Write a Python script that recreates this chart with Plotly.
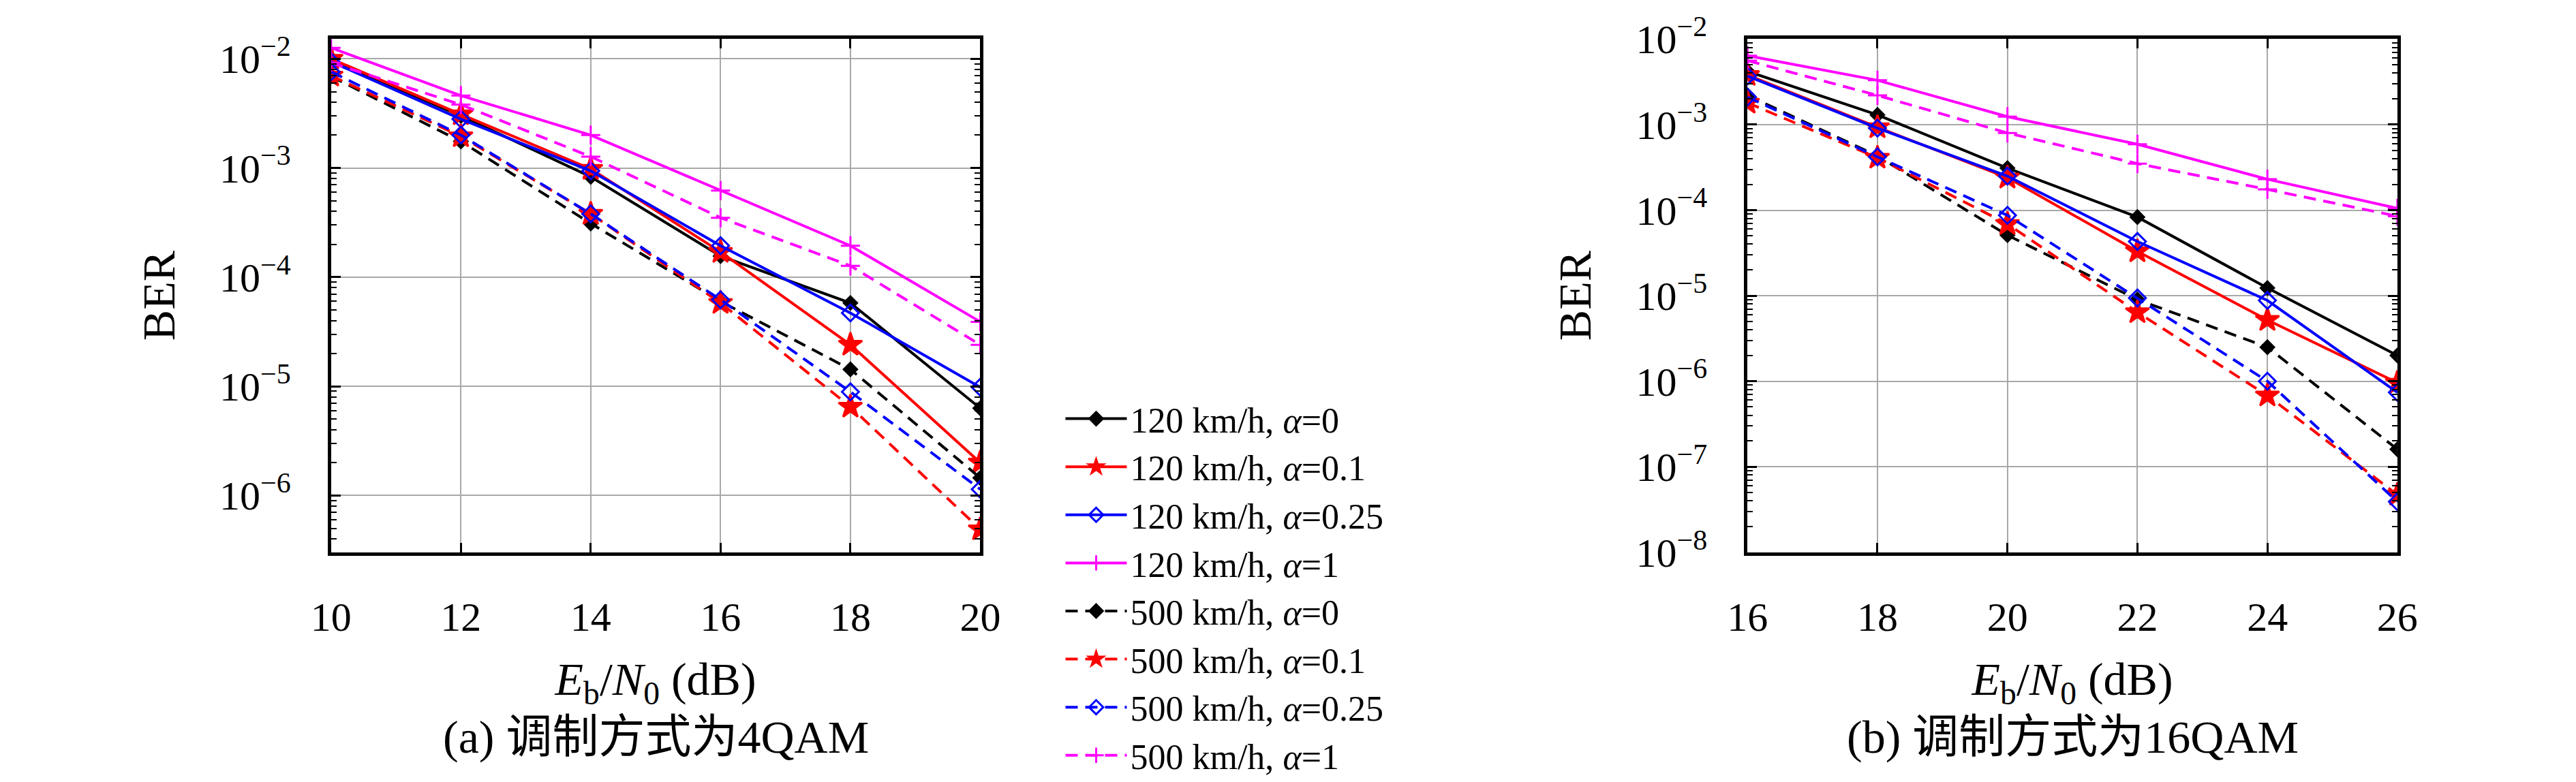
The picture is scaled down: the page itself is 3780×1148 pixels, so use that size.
import plotly.graph_objects as go

# ---------------- data ----------------
snr_4qam = [10, 12, 14, 16, 18, 20]
snr_16qam = [16, 18, 20, 22, 24, 26]

series_names = [
    "120 km/h, <i>α</i>=0",
    "120 km/h, <i>α</i>=0.1",
    "120 km/h, <i>α</i>=0.25",
    "120 km/h, <i>α</i>=1",
    "500 km/h, <i>α</i>=0",
    "500 km/h, <i>α</i>=0.1",
    "500 km/h, <i>α</i>=0.25",
    "500 km/h, <i>α</i>=1",
]

# (a) 4QAM
ber_4qam_120_a0 = [9.8e-3, 3.0e-3, 8.3e-4, 1.56e-4, 5.8e-5, 6.3e-6]
ber_4qam_120_a01 = [1.0e-2, 3.1e-3, 9.8e-4, 1.7e-4, 2.4e-5, 2.0e-6]
ber_4qam_120_a025 = [9.4e-3, 2.8e-3, 9.4e-4, 1.94e-4, 4.7e-5, 9.8e-6]
ber_4qam_120_a1 = [1.26e-2, 4.6e-3, 2.0e-3, 6.2e-4, 1.94e-4, 3.9e-5]
ber_4qam_500_a0 = [6.9e-3, 1.75e-3, 3.1e-4, 6.0e-5, 1.43e-5, 1.45e-6]
ber_4qam_500_a01 = [7.0e-3, 1.95e-3, 3.8e-4, 5.8e-5, 6.5e-6, 4.9e-7]
ber_4qam_500_a025 = [7.6e-3, 2.0e-3, 3.8e-4, 6.2e-5, 8.9e-6, 1.14e-6]
ber_4qam_500_a1 = [9.2e-3, 3.8e-3, 1.27e-3, 3.5e-4, 1.27e-4, 2.4e-5]

# (b) 16QAM
ber_16qam_120_a0 = [4.2e-3, 1.3e-3, 3.1e-4, 8.3e-5, 1.23e-5, 2.0e-6]
ber_16qam_120_a01 = [3.8e-3, 9.3e-4, 2.4e-4, 3.3e-5, 5.2e-6, 9.6e-7]
ber_16qam_120_a025 = [3.7e-3, 9.1e-4, 2.5e-4, 4.3e-5, 8.8e-6, 7.4e-7]
ber_16qam_120_a1 = [6.4e-3, 3.3e-3, 1.24e-3, 5.9e-4, 2.3e-4, 1.05e-4]
ber_16qam_500_a0 = [2.2e-3, 4.3e-4, 5.1e-5, 9.0e-6, 2.5e-6, 1.6e-7]
ber_16qam_500_a01 = [1.8e-3, 4.1e-4, 6.9e-5, 6.4e-6, 6.8e-7, 4.7e-8]
ber_16qam_500_a025 = [2.1e-3, 4.2e-4, 8.7e-5, 9.4e-6, 1.0e-6, 3.9e-8]
ber_16qam_500_a1 = [5.6e-3, 2.2e-3, 8.0e-4, 3.5e-4, 1.75e-4, 8.5e-5]

data_4qam = [ber_4qam_120_a0, ber_4qam_120_a01, ber_4qam_120_a025, ber_4qam_120_a1,
             ber_4qam_500_a0, ber_4qam_500_a01, ber_4qam_500_a025, ber_4qam_500_a1]
data_16qam = [ber_16qam_120_a0, ber_16qam_120_a01, ber_16qam_120_a025, ber_16qam_120_a1,
              ber_16qam_500_a0, ber_16qam_500_a01, ber_16qam_500_a025, ber_16qam_500_a1]

x_ticks_4qam = [10, 12, 14, 16, 18, 20]
x_ticks_16qam = [16, 18, 20, 22, 24, 26]
y_ticks_4qam = [1e-6, 1e-5, 1e-4, 1e-3, 1e-2]
y_ticks_16qam = [1e-8, 1e-7, 1e-6, 1e-5, 1e-4, 1e-3, 1e-2]
y_exps_4qam = [-6, -5, -4, -3, -2]
y_exps_16qam = [-8, -7, -6, -5, -4, -3, -2]

captions = ["(a) 调制方式为4QAM", "(b) 调制方式为16QAM"]

# ---------------- styles ----------------
colors = ["black", "red", "blue", "magenta"] * 2
dashes = ["solid"] * 4 + ["18px,11px"] * 4
symbols = ["diamond", "star", "diamond-open", "cross-thin-open"] * 2
msizes = [15, 26, 19, 20] * 2

FONT = "Liberation Serif, Noto Sans CJK SC, serif"
W, H = 3780, 1148
TICK_SIZE = 60
TITLE_SIZE = 68

fig = go.Figure()

for i in range(8):
    for k, (xs, data, xa, ya) in enumerate([(snr_4qam, data_4qam, "x", "y"),
                                            (snr_16qam, data_16qam, "x2", "y2")]):
        fig.add_trace(go.Scatter(
            x=xs, y=data[i], xaxis=xa, yaxis=ya,
            mode="lines+markers",
            name=series_names[i],
            showlegend=(k == 0),
            line=dict(color=colors[i], width=4, dash=dashes[i]),
            marker=dict(symbol=symbols[i], size=msizes[i], color=colors[i],
                        line=dict(color=colors[i], width=3)),
        ))

def sup(e):
    return "10<sup>−%d</sup>" % (-e)

axis_common = dict(
    showline=True, linecolor="black", linewidth=5, mirror="allticks",
    ticks="inside", ticklen=14, tickwidth=3, tickcolor="black",
    showgrid=True, gridcolor="#a8a8a8", gridwidth=2,
    zeroline=False, ticklabeloverflow="allow",
    tickfont=dict(family=FONT, size=TICK_SIZE, color="black"),
    title_font=dict(family=FONT, size=TITLE_SIZE, color="black"),
)

minor_y = dict(ticks="inside", ticklen=8, tickcolor="black", tickwidth=2,
               dtick="D1", showgrid=False)

xd1 = [455 / W, 1423 / W]
xd2 = [2567 / W, 3536 / W]
yd = [1 - 815 / H, 1 - 9 / H]

xtitle = "<i>E</i><sub>b</sub>/<i>N</i><sub>0</sub> (dB)"

fig.update_layout(
    width=W, height=H,
    margin=dict(l=0, r=0, t=0, b=0),
    paper_bgcolor="white", plot_bgcolor="white",
    font=dict(family=FONT, color="black", size=TICK_SIZE),
    xaxis=dict(domain=xd1, range=[10, 20], tickvals=x_ticks_4qam, anchor="y",
               ticklabelstandoff=38,
               title=dict(text=xtitle, standoff=36), **axis_common),
    yaxis=dict(domain=yd, type="log", range=[-6.52, -1.82], anchor="x",
               tickvals=y_ticks_4qam, ticktext=[sup(e) for e in y_exps_4qam],
               ticklabelstandoff=42,
               title=dict(text="BER", standoff=45), minor=minor_y, **axis_common),
    xaxis2=dict(domain=xd2, range=[16, 26], tickvals=x_ticks_16qam, anchor="y2",
                ticklabelstandoff=38,
                title=dict(text=xtitle, standoff=36), **axis_common),
    yaxis2=dict(domain=yd, type="log", range=[-8, -2], anchor="x2",
                tickvals=y_ticks_16qam, ticktext=[sup(e) for e in y_exps_16qam],
                ticklabelstandoff=42,
                title=dict(text="BER", standoff=45), minor=minor_y, **axis_common),
    legend=dict(x=1545 / W, y=1 - 562 / H, xanchor="left", yanchor="top",
                font=dict(family=FONT, size=52, color="black"),
                bgcolor="rgba(0,0,0,0)", tracegroupgap=0, itemwidth=90),
    showlegend=True,
)

for cap, xd in zip(captions, [xd1, xd2]):
    fig.add_annotation(text=cap, xref="paper", yref="paper",
                       x=(xd[0] + xd[1]) / 2, y=1 - 1105 / H,
                       xanchor="center", yanchor="middle", showarrow=False,
                       font=dict(family=FONT, size=68, color="black"))

fig.write_html("out.html")
